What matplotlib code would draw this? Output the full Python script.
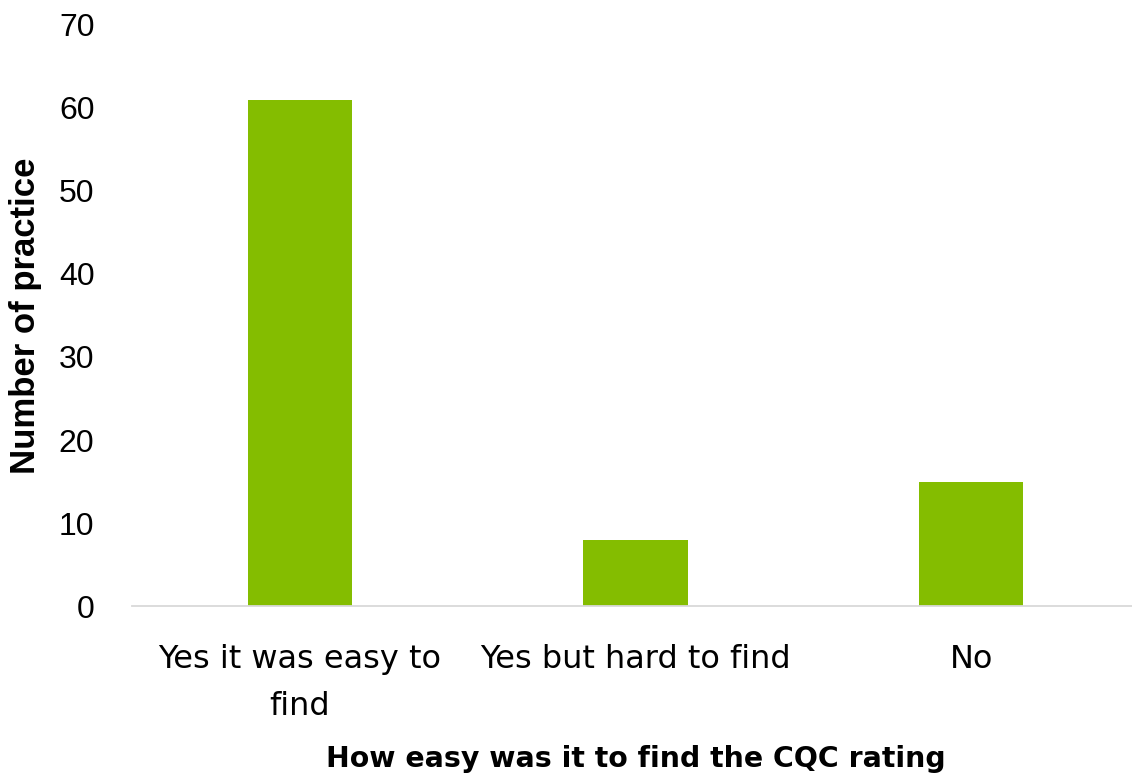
import matplotlib.pyplot as plt
import numpy as np

plt.rcParams['font.family'] = ['DejaVu Sans']

# Respuestas sobre la calificacion CQC
categorias = ['Yes it was easy to\nfind', 'Yes but hard to find', 'No']
valores = [61, 8, 15]
verde = '#84BD00'

fig = plt.figure(figsize=(11.32, 7.78), dpi=100)
ax = fig.add_axes([0.1166, 0.221, 0.8896, 0.747])

x = np.arange(len(categorias))
ax.bar(x, valores, width=0.31, color=verde, zorder=2)

ax.set_xlim(-0.5, 2.5)
ax.set_ylim(0, 70)
ax.set_yticks(range(0, 71, 10))
ax.set_yticklabels([str(v) for v in range(0, 71, 10)],
                   family='Liberation Sans', fontsize=23)
ax.set_xticks(x)
ax.set_xticklabels(categorias, fontsize=23, linespacing=1.7)
ax.tick_params(axis='y', length=0, pad=27)
ax.tick_params(axis='x', length=0, pad=27)

for lado in ['top', 'right', 'left']:
    ax.spines[lado].set_visible(False)
ax.spines['bottom'].set_color('#d9d9d9')
ax.spines['bottom'].set_linewidth(1.3)

ax.set_ylabel('Number of practice', family='Liberation Sans', fontsize=25,
              fontweight='bold', labelpad=12)
ax.set_xlabel('How easy was it to find the CQC rating', fontsize=20.4,
              fontweight='bold', labelpad=16)

fig.savefig('out.png', dpi=100)
